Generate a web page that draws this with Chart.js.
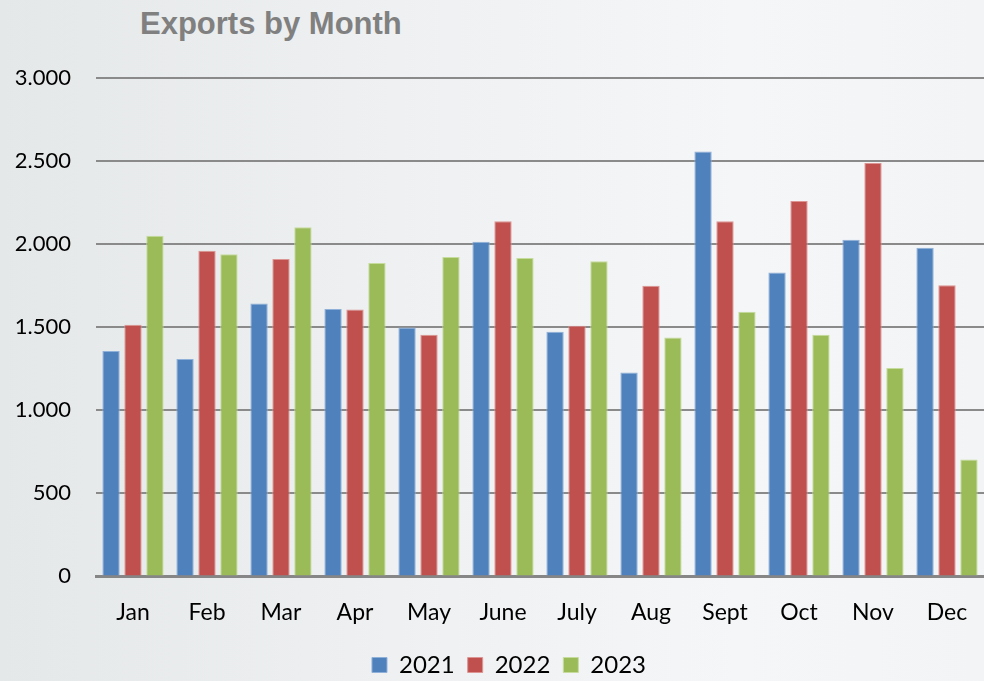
<!DOCTYPE html>
<html>
<head>
<meta charset="utf-8">
<script src="https://cdn.jsdelivr.net/npm/chart.js@4/dist/chart.umd.min.js"></script>
<style>
    html, body { margin: 0; padding: 0; }
    body {
        width: 984px; height: 681px; overflow: hidden; position: relative;
        background: linear-gradient(to right, #e5e8e9 0%, #eef0f1 40%, #f5f6f7 75%, #f3f4f5 100%);
    }
    #title {
        position: absolute; left: 140px; top: 8px;
        font: bold 31px "Liberation Sans", Arial, sans-serif; line-height: 31px;
        color: #808080;
    }
    #BarChart { position: absolute; left: 0; top: 0; }
</style>
</head>
<body>
<div id="title">Exports by Month</div>
<canvas id="BarChart" width="984" height="681"></canvas>
<script>
// months on the x axis
const months = ['Jan', 'Feb', 'Mar', 'Apr', 'May', 'June', 'July', 'Aug', 'Sept', 'Oct', 'Nov', 'Dec'];

// exports per year
const exports2021 = [1356, 1308, 1642, 1610, 1498, 2014, 1472, 1228, 2557, 1829, 2026, 1978];
const exports2022 = [1515, 1960, 1911, 1606, 1454, 2137, 1509, 1750, 2137, 2260, 2488, 1752];
const exports2023 = [2050, 1939, 2102, 1887, 1923, 1917, 1897, 1438, 1593, 1454, 1254, 703];

const yTicks = [0, 500, 1000, 1500, 2000, 2500, 3000];

// 3000 -> "3.000"
function formatThousands(v) {
    return String(v).replace(/\B(?=(\d{3})+(?!\d))/g, '.');
}

// legend sits a little right of the canvas centre in the original
const legendShift = {
    id: 'legendShift',
    afterLayout(chart) {
        chart.legend.left += 17;
        chart.legend.right += 17;
    }
};

const ctx = document.getElementById('BarChart').getContext('2d');
const BarChart = new Chart(ctx, {
    type: 'bar',
    data: {
        labels: months,
        datasets: [
            { label: '2021', data: exports2021, backgroundColor: '#4f81bd', borderColor: '#8fb0d8' },
            { label: '2022', data: exports2022, backgroundColor: '#c0504d', borderColor: '#dc9593' },
            { label: '2023', data: exports2023, backgroundColor: '#9bbb59', borderColor: '#c5dc9c' }
        ].map(ds => Object.assign(ds, {
            borderWidth: 1,
            borderSkipped: 'bottom',
            categoryPercentage: 0.89,
            barPercentage: 0.79
        }))
    },
    plugins: [legendShift],
    options: {
        responsive: false,
        animation: false,
        layout: { padding: { top: 78, right: 0, left: 0, bottom: -6 } },
        plugins: {
            title: { display: false },
            tooltip: { enabled: false },
            legend: {
                position: 'bottom',
                labels: {
                    color: '#000',
                    font: { family: 'Lato', size: 24 },
                    boxWidth: 15,
                    boxHeight: 15,
                    padding: 13
                }
            }
        },
        scales: {
            x: {
                grid: { display: false },
                border: { display: true, color: '#868686', width: 3 },
                ticks: { color: '#000', font: { family: 'Lato', size: 23 }, padding: 14, maxRotation: 0 }
            },
            y: {
                min: 0,
                max: 3000,
                afterFit: scale => { scale.width = 96; },
                afterBuildTicks: scale => { scale.ticks = yTicks.map(v => ({ value: v })); },
                grid: { color: '#8a8a8a', lineWidth: 2, drawTicks: false },
                border: { display: false },
                ticks: {
                    color: '#000',
                    font: { family: 'Lato', size: 22 },
                    padding: 25,
                    callback: v => formatThousands(v)
                }
            }
        }
    }
});
</script>
</body>
</html>
